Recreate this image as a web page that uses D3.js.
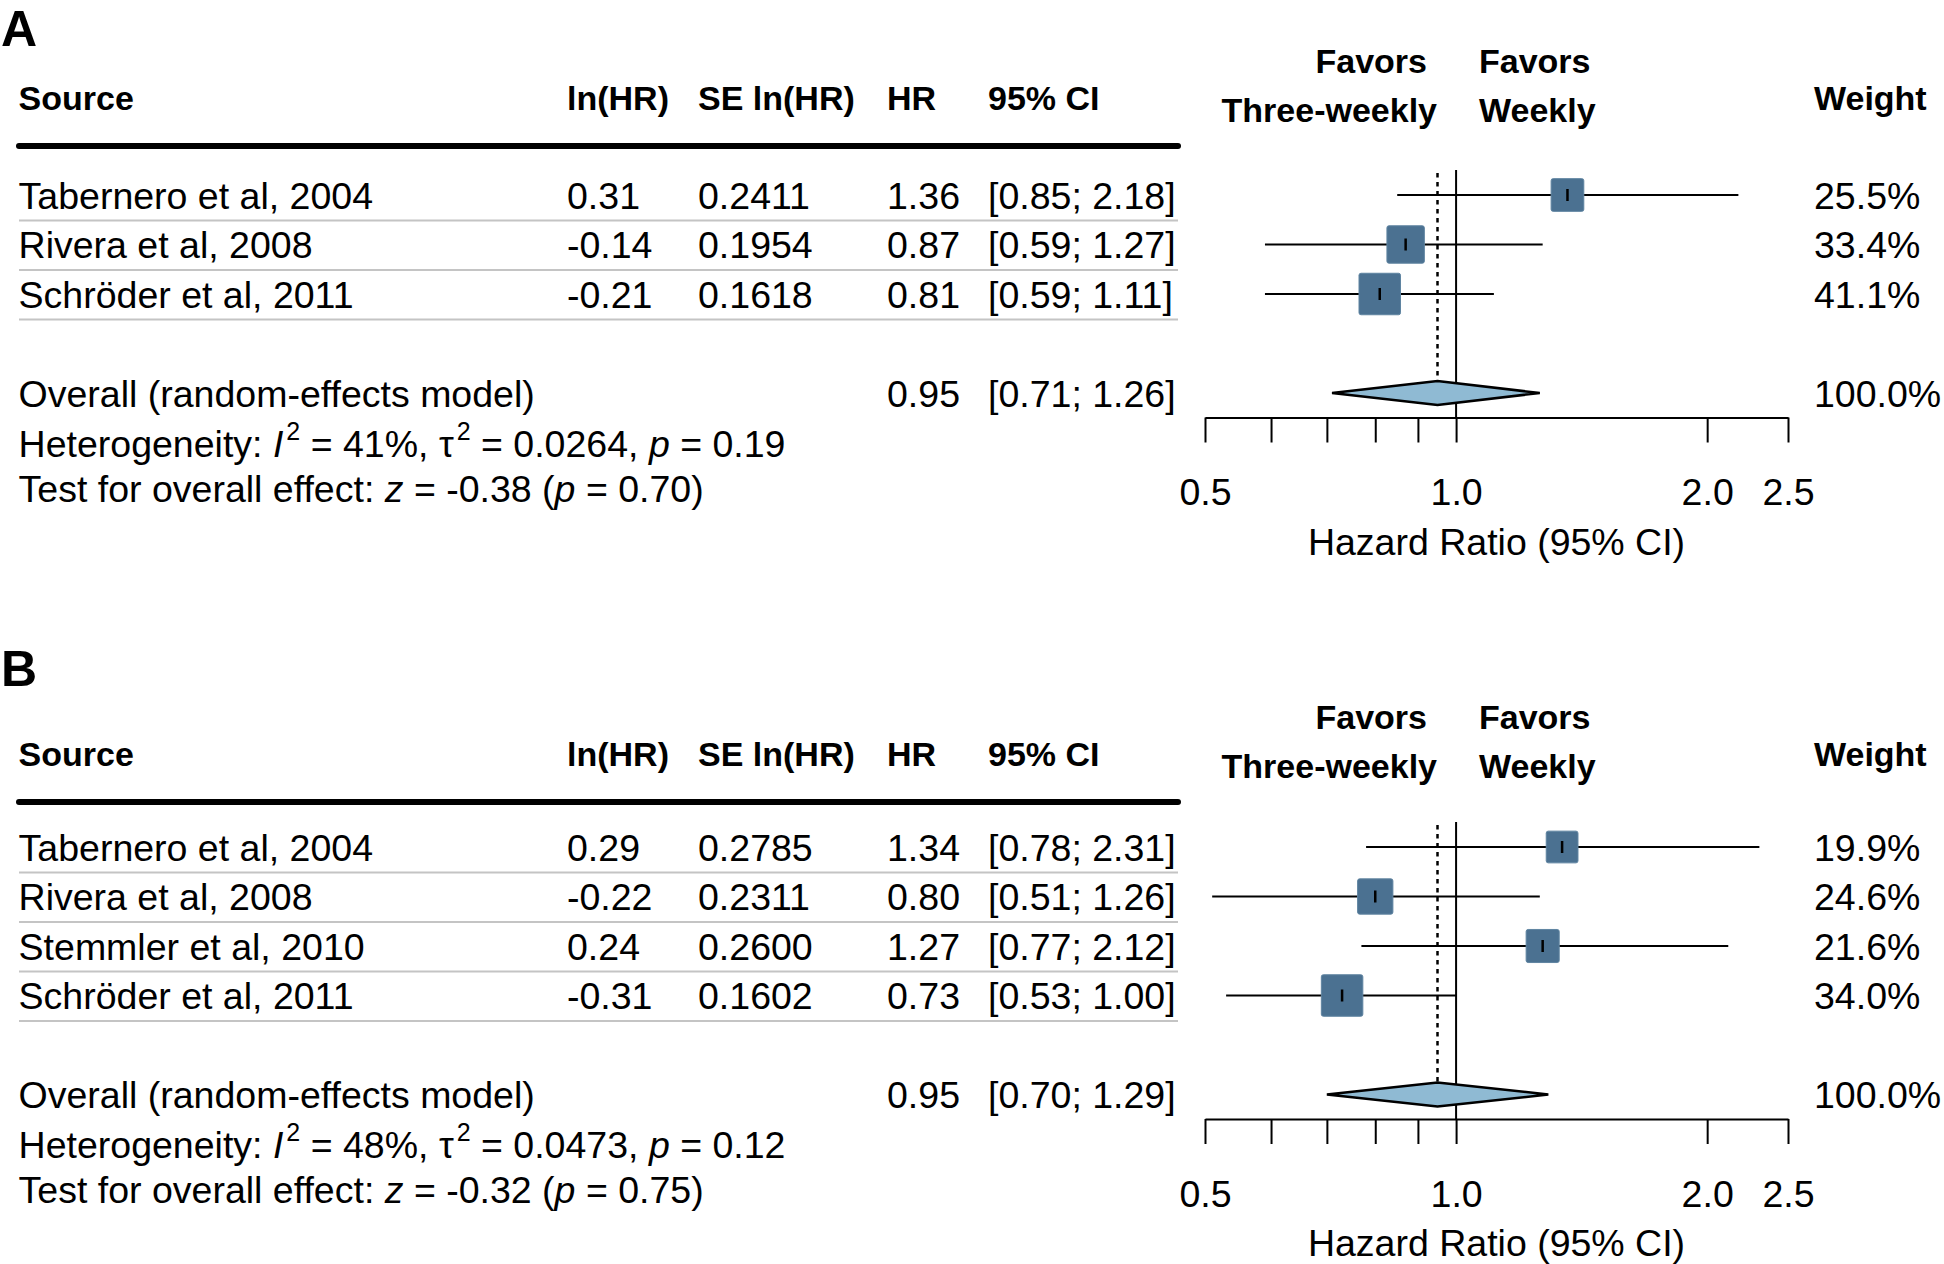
<!DOCTYPE html>
<html><head><meta charset="utf-8">
<script src="https://cdn.jsdelivr.net/npm/d3@7"></script>
<style>
body{margin:0;background:#fff}
svg{display:block}
text{font-family:"Liberation Sans",Arial,Helvetica,sans-serif;fill:#000}
</style>
</head><body>
<svg id="chart" width="1944" height="1264"></svg>
<script>
// ---------- shared labels ----------
const headers = ["Source", "ln(HR)", "SE ln(HR)", "HR", "95% CI", "Weight"];
const favorsLeft = ["Favors", "Three-weekly"];
const favorsRight = ["Favors", "Weekly"];
const tickValues = [0.5, 0.6, 0.7, 0.8, 0.9, 1.0, 2.0, 2.5];
const tickLabels = ["0.5", "", "", "", "", "1.0", "2.0", "2.5"];
const axisTitle = "Hazard Ratio (95% CI)";
const overallLabel = "Overall (random-effects model)";

// ---------- panel A ----------
const studiesA = ["Tabernero et al, 2004", "Rivera et al, 2008", "Schröder et al, 2011"];
const lnHRA = [0.31, -0.14, -0.21];
const seA = [0.2411, 0.1954, 0.1618];
const hrA = [1.36, 0.87, 0.81];
const lowerA = [0.85, 0.59, 0.59];
const upperA = [2.18, 1.27, 1.11];
const weightA = [25.5, 33.4, 41.1];
const overallA = [0.95, 0.71, 1.26];      // HR, lower, upper
const hetA = ["41%", "0.0264", "0.19"];   // I2, tau2, p
const testA = ["-0.38", "0.70"];          // z, p

// ---------- panel B ----------
const studiesB = ["Tabernero et al, 2004", "Rivera et al, 2008", "Stemmler et al, 2010", "Schröder et al, 2011"];
const lnHRB = [0.29, -0.22, 0.24, -0.31];
const seB = [0.2785, 0.2311, 0.2600, 0.1602];
const hrB = [1.34, 0.80, 1.27, 0.73];
const lowerB = [0.78, 0.51, 0.77, 0.53];
const upperB = [2.31, 1.26, 2.12, 1.00];
const weightB = [19.9, 24.6, 21.6, 34.0];
const overallB = [0.95, 0.70, 1.29];
const hetB = ["48%", "0.0473", "0.12"];
const testB = ["-0.32", "0.75"];

// ---------- drawing ----------
const svg = d3.select("#chart");
const FS = 37.5, HFS = 34;
const colX = [18.6, 567, 698, 887, 988, 1814];
const tableRight = 1178;
const x = d3.scaleLog().domain([0.5, 2.5]).range([1205, 1788]);
const ROW = 49.5;

function fmt2(v){ return v.toFixed(2); }

function drawPanel(p){
  const g = svg.append("g");
  // panel letter
  g.append("text").attr("x", 1).attr("y", p.letterY)
    .attr("font-size", 50).attr("font-weight", "bold").text(p.letter);

  const h = p.headTop;
  // headers
  const hdr = [0,1,2,3,4,5];
  g.selectAll(null).data(hdr).join("text")
    .attr("x", i => colX[i]).attr("y", h + 110)
    .attr("font-size", HFS).attr("font-weight", "bold")
    .text(i => headers[i]);
  // favors labels
  g.append("text").attr("x", 1427).attr("y", h + 73).attr("text-anchor","end")
    .attr("font-size", HFS).attr("font-weight","bold").text(favorsLeft[0]);
  g.append("text").attr("x", 1437).attr("y", h + 122).attr("text-anchor","end")
    .attr("font-size", HFS).attr("font-weight","bold").text(favorsLeft[1]);
  g.append("text").attr("x", 1479).attr("y", h + 73)
    .attr("font-size", HFS).attr("font-weight","bold").text(favorsRight[0]);
  g.append("text").attr("x", 1479).attr("y", h + 122)
    .attr("font-size", HFS).attr("font-weight","bold").text(favorsRight[1]);
  // thick header rule
  g.append("line").attr("x1", 19).attr("x2", tableRight).attr("y1", h + 146).attr("y2", h + 146)
    .attr("stroke", "#000").attr("stroke-width", 6).attr("stroke-linecap", "round");

  const n = p.studies.length;
  const idx = d3.range(n);
  const rowY = i => p.rowStart + i * ROW;
  const ovY = p.rowStart + (n + 1) * ROW;
  const axisY = ovY + 24.5;

  // separators
  g.selectAll(null).data(idx).join("line")
    .attr("x1", 19).attr("x2", tableRight)
    .attr("y1", i => rowY(i) + 25.5).attr("y2", i => rowY(i) + 25.5)
    .attr("stroke", "#c4c4c4").attr("stroke-width", 2);

  // table text
  const cols = [
    i => p.studies[i],
    i => fmt2(p.lnhr[i]),
    i => p.se[i].toFixed(4),
    i => fmt2(p.hr[i]),
    i => "[" + fmt2(p.lo[i]) + "; " + fmt2(p.hi[i]) + "]",
    i => p.w[i].toFixed(1) + "%"
  ];
  cols.forEach((f, c) => {
    g.selectAll(null).data(idx).join("text")
      .attr("x", colX[c]).attr("y", i => rowY(i) + 13.5)
      .attr("font-size", FS).text(f);
  });

  // overall row text
  const ovBase = ovY + 13.5;
  g.append("text").attr("x", colX[0]).attr("y", ovBase).attr("font-size", FS).text(overallLabel);
  g.append("text").attr("x", colX[3]).attr("y", ovBase).attr("font-size", FS).text(fmt2(p.ov[0]));
  g.append("text").attr("x", colX[4]).attr("y", ovBase).attr("font-size", FS)
    .text("[" + fmt2(p.ov[1]) + "; " + fmt2(p.ov[2]) + "]");
  g.append("text").attr("x", colX[5]).attr("y", ovBase).attr("font-size", FS).text("100.0%");

  // heterogeneity
  const het = g.append("text").attr("x", colX[0]).attr("y", ovBase + 50).attr("font-size", FS);
  het.append("tspan").text("Heterogeneity: ");
  het.append("tspan").attr("font-style","italic").text("I");
  het.append("tspan").attr("font-size", 25).attr("dx", 3).attr("dy", -17).text("2");
  het.append("tspan").attr("dy", 17).text(" = " + p.het[0] + ", τ");
  het.append("tspan").attr("font-size", 25).attr("dx", 3).attr("dy", -17).text("2");
  het.append("tspan").attr("dy", 17).text(" = " + p.het[1] + ", ");
  het.append("tspan").attr("font-style","italic").text("p");
  het.append("tspan").text(" = " + p.het[2]);

  const tst = g.append("text").attr("x", colX[0]).attr("y", ovBase + 95).attr("font-size", FS);
  tst.append("tspan").text("Test for overall effect: ");
  tst.append("tspan").attr("font-style","italic").text("z");
  tst.append("tspan").text(" = " + p.test[0] + " (");
  tst.append("tspan").attr("font-style","italic").text("p");
  tst.append("tspan").text(" = " + p.test[1] + ")");

  // reference lines
  g.append("line").attr("x1", x(1)).attr("x2", x(1))
    .attr("y1", p.rowStart - 25).attr("y2", axisY)
    .attr("stroke", "#000").attr("stroke-width", 2);
  g.append("line").attr("x1", x(p.ov[0])).attr("x2", x(p.ov[0]))
    .attr("y1", p.rowStart - 22).attr("y2", ovY - 12)
    .attr("stroke", "#000").attr("stroke-width", 2.5).attr("stroke-dasharray", "4.5,4.5");

  // CI lines
  g.selectAll(null).data(idx).join("line")
    .attr("x1", i => x(p.lo[i])).attr("x2", i => x(p.hi[i]))
    .attr("y1", rowY).attr("y2", rowY)
    .attr("stroke", "#000").attr("stroke-width", 2);

  // squares
  const size = d3.scaleSqrt().domain([0, d3.max(p.w)]).range([0, 41.5]);
  g.selectAll(null).data(idx).join("rect")
    .attr("x", i => x(p.hr[i]) - size(p.w[i]) / 2)
    .attr("y", i => rowY(i) - size(p.w[i]) / 2)
    .attr("width", i => size(p.w[i])).attr("height", i => size(p.w[i]))
    .attr("rx", 2)
    .attr("fill", "#4b7191").attr("stroke", "#5f84a1").attr("stroke-width", 1);
  g.selectAll(null).data(idx).join("line")
    .attr("x1", i => x(p.hr[i])).attr("x2", i => x(p.hr[i]))
    .attr("y1", i => rowY(i) - 6).attr("y2", i => rowY(i) + 6)
    .attr("stroke", "#000").attr("stroke-width", 2.5);

  // diamond
  const dpts = [[x(p.ov[1]), ovY], [x(p.ov[0]), ovY - 12], [x(p.ov[2]), ovY], [x(p.ov[0]), ovY + 12]];
  g.append("path").attr("d", d3.line()(dpts) + "Z")
    .attr("fill", "#8fbad3").attr("stroke", "#000").attr("stroke-width", 2.5)
    .attr("stroke-linejoin", "miter");

  // axis
  const axis = d3.axisBottom(x).tickValues(tickValues)
    .tickFormat((d, i) => tickLabels[i]).tickSize(25).tickSizeOuter(0).tickPadding(36);
  const ag = g.append("g").attr("transform", `translate(0,${axisY})`).call(axis);
  ag.attr("font-family", null).attr("font-size", null);
  ag.select(".domain").attr("stroke-width", 2);
  ag.selectAll(".tick line").attr("stroke-width", 2);
  ag.selectAll(".tick text").attr("font-size", FS).attr("fill", "#000");
  g.append("text").attr("x", (x(0.5) + x(2.5)) / 2).attr("y", axisY + 137)
    .attr("text-anchor", "middle").attr("font-size", FS).text(axisTitle);
}

drawPanel({letter:"A", letterY:46, headTop:0, rowStart:195,
  studies:studiesA, lnhr:lnHRA, se:seA, hr:hrA, lo:lowerA, hi:upperA, w:weightA,
  ov:overallA, het:hetA, test:testA});
drawPanel({letter:"B", letterY:686, headTop:656, rowStart:847,
  studies:studiesB, lnhr:lnHRB, se:seB, hr:hrB, lo:lowerB, hi:upperB, w:weightB,
  ov:overallB, het:hetB, test:testB});
</script>
</body></html>
